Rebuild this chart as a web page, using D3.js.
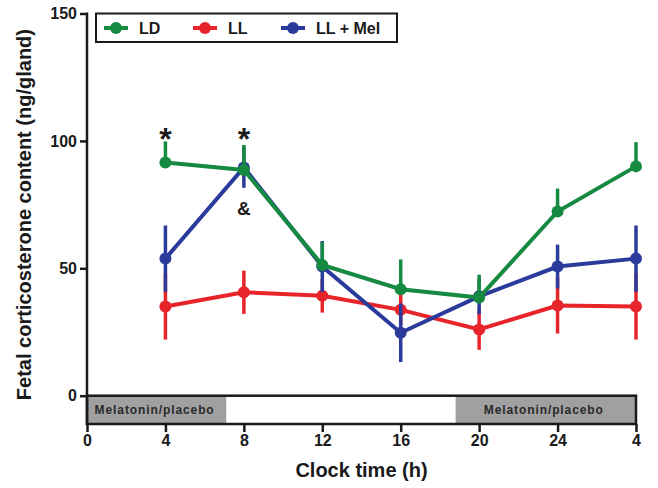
<!DOCTYPE html>
<html>
<head>
<meta charset="utf-8">
<script src="https://cdn.jsdelivr.net/npm/d3@7"></script>
<style>
  body { margin: 0; background: #fff; }
  svg text { font-family: "Liberation Sans", Arial, sans-serif; font-weight: bold; }
</style>
</head>
<body>
<div id="chart"></div>
<script>
// clock hours (28 = 4 h next day)
const hours = [4, 8, 12, 16, 20, 24, 28];
const xTickValues = [0, 4, 8, 12, 16, 20, 24, 28];
const xTickLabels = ['0', '4', '8', '12', '16', '20', '24', '4'];
const yTickValues = [0, 50, 100, 150];

const ldMean = [91.5, 88.6, 51.3, 41.8, 38.5, 72.3, 90.0];
const ldSem = [8.3, 9.8, 9.0, 11.7, 9.0, 9.0, 9.5];
const llMean = [35.0, 40.6, 39.2, 33.7, 26.0, 35.4, 35.0];
const llSem = [13.0, 8.5, 6.6, 6.0, 8.0, 11.0, 13.0];
const melMean = [53.8, 89.6, 50.7, 24.7, 39.0, 50.7, 53.8];
const melSem = [13.0, 8.0, 10.0, 11.5, 7.0, 8.6, 13.0];

const seriesNames = ['LD', 'LL', 'LL + Mel'];

// treatment periods (h)
const bandStarts = [0, 18.8];
const bandEnds = [7.1, 28];
const bandLabel = 'Melatonin/placebo';

// significance marks
const markText = ['*', '*', '&'];
const markHour = [4, 8, 8];
const markValue = [103.5, 103.5, 73.5];

const width = 658;
const height = 488;

const x = d3.scaleLinear().domain([0, 28]).range([87, 636]);
const y = d3.scaleLinear().domain([0, 150]).range([395.7, 13.5]);
const bandBottom = 424;

const colors = { 'LD': '#178a42', 'LL': '#e8242b', 'LL + Mel': '#2b3b9b' };

const svg = d3.select('#chart')
  .append('svg')
  .attr('width', width)
  .attr('height', height);

const series = [
  { name: 'LL', mean: llMean, sem: llSem, upOnly: false },
  { name: 'LL + Mel', mean: melMean, sem: melSem, upOnly: false },
  { name: 'LD', mean: ldMean, sem: ldSem, upOnly: true }
];

// bottom band with melatonin periods
const bands = bandStarts.map((s, i) => ({ s: s, e: bandEnds[i] }));

svg.append('g')
  .selectAll('rect')
  .data(bands)
  .join('rect')
  .attr('x', d => x(d.s))
  .attr('y', y(0))
  .attr('width', d => x(d.e) - x(d.s))
  .attr('height', bandBottom - y(0))
  .attr('fill', '#a0a0a0');

svg.append('g')
  .selectAll('text')
  .data(bands)
  .join('text')
  .attr('x', d => (x(d.s) + x(d.e)) / 2 - 2)
  .attr('y', (y(0) + bandBottom) / 2 + 4.5)
  .attr('text-anchor', 'middle')
  .attr('font-size', '12px')
  .attr('letter-spacing', '0.9px')
  .attr('fill', '#2a2a2a')
  .text(bandLabel);

svg.append('rect')
  .attr('x', x(0))
  .attr('y', y(0))
  .attr('width', x(28) - x(0))
  .attr('height', bandBottom - y(0))
  .attr('fill', 'none')
  .attr('stroke', '#1a1a1a')
  .attr('stroke-width', 2.5);

// axes
function yAxis(g) {
  g.attr('transform', `translate(${x(0)},0)`)
    .call(d3.axisLeft(y).tickValues(yTickValues).tickSize(7).tickPadding(3))
    .call(g => g.select('.domain').remove())
    .attr('font-size', '16px');
  g.selectAll('line').attr('stroke', '#1a1a1a').attr('stroke-width', 2.5);
  g.selectAll('text').attr('fill', '#1a1a1a');
}

function xAxis(g) {
  g.attr('transform', `translate(0,${bandBottom})`)
    .call(d3.axisBottom(x).tickValues(xTickValues).tickFormat((d, i) => xTickLabels[i]).tickSize(8).tickPadding(3))
    .call(g => g.select('.domain').remove())
    .attr('font-size', '16px');
  g.selectAll('line').attr('stroke', '#1a1a1a').attr('stroke-width', 2.5);
  g.selectAll('text').attr('fill', '#1a1a1a');
}

svg.append('g').call(yAxis);
svg.append('g').call(xAxis);

svg.append('line')
  .attr('x1', x(0)).attr('x2', x(0))
  .attr('y1', y(150) - 1).attr('y2', bandBottom + 1)
  .attr('stroke', '#1a1a1a')
  .attr('stroke-width', 2.5);

// axis titles
svg.append('text')
  .attr('transform', `translate(31,${(y(150) + y(0)) / 2 + 10}) rotate(-90)`)
  .attr('text-anchor', 'middle')
  .attr('font-size', '20px')
  .attr('fill', '#1a1a1a')
  .text('Fetal corticosterone content (ng/gland)');

svg.append('text')
  .attr('x', (x(0) + x(28)) / 2)
  .attr('y', 477)
  .attr('text-anchor', 'middle')
  .attr('font-size', '20px')
  .attr('fill', '#1a1a1a')
  .text('Clock time (h)');

// data series
const line = d3.line()
  .x((d, i) => x(hours[i]))
  .y(d => y(d));

series.forEach(s => {
  const g = svg.append('g');
  const c = colors[s.name];

  g.selectAll('line')
    .data(s.mean)
    .join('line')
    .attr('x1', (d, i) => x(hours[i]))
    .attr('x2', (d, i) => x(hours[i]))
    .attr('y1', (d, i) => y(d + s.sem[i]))
    .attr('y2', (d, i) => s.upOnly ? y(d) : y(d - s.sem[i]))
    .attr('stroke', c)
    .attr('stroke-width', 3.5);

  g.append('path')
    .datum(s.mean)
    .attr('d', line)
    .attr('fill', 'none')
    .attr('stroke', c)
    .attr('stroke-width', 4);

  g.selectAll('circle')
    .data(s.mean)
    .join('circle')
    .attr('cx', (d, i) => x(hours[i]))
    .attr('cy', d => y(d))
    .attr('r', 6)
    .attr('fill', c);
});

// significance marks
svg.append('g')
  .selectAll('text')
  .data(markText)
  .join('text')
  .attr('x', (d, i) => x(markHour[i]))
  .attr('y', (d, i) => y(markValue[i]))
  .attr('dy', (d) => d === '*' ? '0.55em' : '0.36em')
  .attr('text-anchor', 'middle')
  .attr('font-size', d => d === '*' ? '32px' : '19px')
  .attr('fill', '#1a1a1a')
  .text(d => d);

// legend
const legend = svg.append('g');
legend.append('rect')
  .attr('x', 96)
  .attr('y', 13.5)
  .attr('width', 301)
  .attr('height', 28.5)
  .attr('fill', '#fff')
  .attr('stroke', '#1a1a1a')
  .attr('stroke-width', 2);

const legendX = [116, 205, 293];
const legendItems = legend.selectAll('g')
  .data(seriesNames)
  .join('g')
  .attr('transform', (d, i) => `translate(${legendX[i]},28)`);

legendItems.append('line')
  .attr('x1', -12).attr('x2', 12)
  .attr('stroke', d => colors[d])
  .attr('stroke-width', 4);

legendItems.append('circle')
  .attr('r', 6)
  .attr('fill', d => colors[d]);

legendItems.append('text')
  .attr('x', 23)
  .attr('dy', '0.36em')
  .attr('font-size', '16px')
  .attr('fill', '#1a1a1a')
  .text(d => d);
</script>
</body>
</html>
